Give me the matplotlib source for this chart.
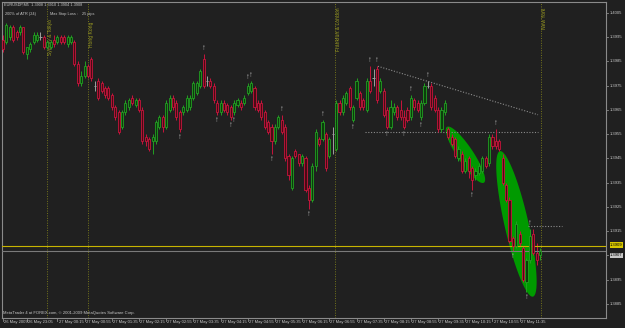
import numpy as np
import matplotlib
matplotlib.use("Agg")
import matplotlib.pyplot as plt
from matplotlib.patches import Polygon

plt.rcParams["font.family"] = ["Liberation Sans", "DejaVu Sans"]

# EURUSD M5 candles, prices in 1/10000 (13994 -> 1.3994)
opens = [13994, 13993, 13995, 13999, 13997, 13997, 13999, 13988, 13990, 13993,
         13994, 13995, 13995, 13991, 13991, 13994, 13993, 13995, 13995, 13992,
         13993, 13993, 13984, 13976, 13979, 13983, 13986, 13975, 13977, 13976,
         13974, 13974, 13971, 13966, 13964, 13958, 13964, 13966, 13970, 13967,
         13969, 13965, 13954, 13953, 13952, 13952, 13958, 13962, 13958, 13965,
         13970, 13968, 13964, 13964, 13965, 13966, 13970, 13972, 13975, 13986,
         13977, 13977, 13975, 13968, 13964, 13968, 13967, 13966, 13964, 13967,
         13968, 13968, 13972, 13973, 13974, 13968, 13968, 13964, 13960, 13958,
         13952, 13958, 13961, 13958, 13946, 13933, 13948, 13947, 13943, 13945,
         13933, 13928, 13942, 13953, 13953, 13955, 13946, 13955, 13949, 13968,
         13964, 13968, 13974, 13961, 13970, 13972, 13969, 13965, 13977, 13978,
         13982, 13973, 13973, 13965, 13958, 13964, 13966, 13965, 13962, 13965,
         13962, 13969, 13968, 13962, 13968, 13975, 13975, 13970, 13965, 13957,
         13964, 13957, 13954, 13953, 13945, 13947, 13940, 13945, 13941, 13938,
         13939, 13940, 13945, 13943, 13954, 13952, 13952, 13945, 13934, 13928,
         13912, 13909, 13914, 13908, 13894, 13903, 13914, 13906, 13905]
highs = [13996, 14001, 14000, 14000, 13998, 14000, 13999, 13991, 13993, 13997,
         13997, 13997, 13996, 13994, 13994, 13996, 13996, 13996, 13996, 13996,
         13996, 13994, 13985, 13981, 13985, 13984, 13987, 13977, 13978, 13977,
         13975, 13975, 13972, 13967, 13965, 13965, 13969, 13970, 13971, 13970,
         13970, 13966, 13955, 13954, 13955, 13961, 13963, 13963, 13969, 13971,
         13971, 13969, 13965, 13967, 13971, 13971, 13977, 13977, 13982, 13988,
         13979, 13978, 13976, 13969, 13969, 13969, 13968, 13967, 13969, 13970,
         13969, 13971, 13976, 13977, 13975, 13969, 13969, 13965, 13961, 13959,
         13959, 13963, 13963, 13959, 13947, 13946, 13949, 13947, 13947, 13946,
         13934, 13943, 13957, 13954, 13961, 13956, 13954, 13958, 13969, 13969,
         13971, 13973, 13975, 13967, 13978, 13973, 13970, 13978, 13983, 13982,
         13983, 13978, 13974, 13966, 13969, 13968, 13967, 13969, 13965, 13966,
         13971, 13970, 13969, 13969, 13976, 13977, 13976, 13971, 13966, 13966,
         13969, 13958, 13955, 13954, 13950, 13948, 13945, 13946, 13942, 13941,
         13943, 13946, 13946, 13955, 13955, 13957, 13953, 13947, 13935, 13929,
         13913, 13919, 13915, 13909, 13904, 13916, 13916, 13910, 13908]
lows = [13989, 13992, 13994, 13993, 13994, 13996, 13988, 13986, 13989, 13992,
        13993, 13994, 13990, 13990, 13990, 13991, 13992, 13992, 13992, 13991,
        13992, 13983, 13975, 13975, 13978, 13978, 13977, 13973, 13969, 13972,
        13970, 13969, 13965, 13961, 13955, 13957, 13963, 13965, 13967, 13966,
        13964, 13951, 13950, 13948, 13947, 13951, 13957, 13956, 13957, 13964,
        13965, 13961, 13956, 13963, 13964, 13965, 13969, 13971, 13974, 13974,
        13975, 13974, 13968, 13963, 13963, 13964, 13963, 13961, 13963, 13966,
        13965, 13967, 13971, 13972, 13965, 13964, 13961, 13957, 13955, 13947,
        13951, 13957, 13955, 13944, 13936, 13932, 13945, 13942, 13942, 13931,
        13924, 13927, 13940, 13950, 13952, 13940, 13945, 13947, 13948, 13963,
        13963, 13967, 13965, 13960, 13969, 13965, 13965, 13964, 13972, 13975,
        13968, 13972, 13962, 13957, 13957, 13963, 13961, 13961, 13957, 13960,
        13961, 13965, 13964, 13961, 13967, 13974, 13965, 13964, 13956, 13956,
        13963, 13953, 13950, 13945, 13944, 13939, 13939, 13937, 13932, 13936,
        13938, 13939, 13941, 13942, 13949, 13949, 13948, 13934, 13927, 13910,
        13907, 13908, 13909, 13894, 13890, 13902, 13905, 13901, 13903]
closes = [13990, 14000, 13999, 13994, 13995, 13999, 13989, 13991, 13992, 13996,
          13996, 13995, 13991, 13993, 13993, 13992, 13995, 13993, 13993, 13995,
          13995, 13984, 13976, 13979, 13983, 13979, 13978, 13975, 13970, 13973,
          13971, 13970, 13966, 13962, 13956, 13964, 13968, 13969, 13968, 13969,
          13965, 13952, 13952, 13949, 13954, 13960, 13962, 13958, 13968, 13970,
          13966, 13962, 13957, 13966, 13970, 13970, 13976, 13976, 13981, 13975,
          13977, 13975, 13969, 13964, 13968, 13965, 13964, 13962, 13968, 13969,
          13966, 13970, 13975, 13976, 13966, 13965, 13962, 13958, 13956, 13952,
          13958, 13962, 13956, 13945, 13938, 13945, 13946, 13943, 13946, 13932,
          13928, 13942, 13956, 13951, 13960, 13941, 13953, 13955, 13968, 13964,
          13970, 13972, 13966, 13966, 13977, 13966, 13966, 13977, 13973, 13978,
          13969, 13977, 13963, 13958, 13966, 13966, 13962, 13962, 13958, 13961,
          13970, 13966, 13965, 13968, 13975, 13975, 13966, 13965, 13957, 13965,
          13968, 13954, 13951, 13946, 13949, 13940, 13944, 13940, 13936, 13940,
          13942, 13945, 13942, 13954, 13950, 13950, 13949, 13935, 13928, 13911,
          13909, 13918, 13910, 13895, 13903, 13913, 13906, 13903, 13907]

fractal_up = [59, 72, 73, 82, 94, 108, 110, 120, 125, 145, 155]
fractal_down = [52, 63, 67, 68, 79, 90, 103, 113, 118, 123, 138, 150, 154]

session_bars = [12.9, 25.0, 97.6, 158.2]
session_names = ["Sydney & Tokyo", "Hong Kong", "Frankfurt & London", "New York"]

time_tick_bars = [0, 7, 16, 24, 32, 40, 48, 56, 64, 72, 80, 88, 96, 104,
                  112, 120, 128, 136, 144, 152]
time_tick_labels = ["26 May 2009", "26 May 23:05", "27 May 00:15", "27 May 00:55",
                    "27 May 01:35", "27 May 02:15", "27 May 02:55", "27 May 03:35",
                    "27 May 04:15", "27 May 04:55", "27 May 05:35", "27 May 06:15",
                    "27 May 06:55", "27 May 07:35", "27 May 08:15", "27 May 08:55",
                    "27 May 09:35", "27 May 10:15", "27 May 10:55", "27 May 11:35"]
price_ticks = [14005, 13995, 13985, 13975, 13965, 13955, 13945, 13935,
               13925, 13915, 13905, 13895, 13885]

trend_line = [(110.3, 13983), (157.4, 13963)]
level_lines = [(106.5, 157.4, 13956), (154.4, 164.4, 13917)]
ellipses = [((130.6, 13958), (141.5, 13935), 16), ((146.2, 13948), (155.9, 13888), 24)]
bid_line = 13909
ask_line = 13907

PIP = 10000.0
o = np.array(opens) / PIP
h = np.array(highs) / PIP
l = np.array(lows) / PIP
c = np.array(closes) / PIP
idx = np.arange(len(o))

BG = "#202020"
FG = "#c8c8c8"
FS = 3.0
W, H = 625, 328

fig = plt.figure(figsize=(W / 100, H / 100), dpi=100, facecolor=BG)
ax = fig.add_axes([2 / W, 10 / H, 604 / W, 316 / H], facecolor=BG)
ax.set_xlim(-0.3, 177.4)
ax.set_ylim(1.38792, 1.40095)
for s in ax.spines.values():
    s.set_color("#8a8a8a")
    s.set_linewidth(0.8)
ax.set_xticks([])
ax.set_yticks([])

# session separators, labels start a little lower where header text sits
label_tops = [1.40024, 1.40016, 1.40072, 1.40072]
for xb, name, top in zip(session_bars, session_names, label_tops):
    ax.axvline(xb, color="#76761c", lw=0.7, ls=(0, (1, 1.5)), zorder=1)
    ax.text(xb + 0.3, top, name, rotation=90, ha="left", va="top",
            color="#9a9a22", fontsize=3.6, zorder=1)

# green ellipses drawn in screen space
t = ax.transData
for p1, p2, wpx in ellipses:
    a = t.transform((p1[0], p1[1] / PIP))
    b = t.transform((p2[0], p2[1] / PIP))
    cen = (a + b) / 2
    d = b - a
    half = np.hypot(*d) / 2
    ang = np.arctan2(d[1], d[0])
    th = np.linspace(0, 2 * np.pi, 120)
    ex = half * np.cos(th)
    ey = wpx / 2 * np.sin(th)
    pts = np.column_stack([cen[0] + ex * np.cos(ang) - ey * np.sin(ang),
                           cen[1] + ex * np.sin(ang) + ey * np.cos(ang)])
    ax.add_patch(Polygon(t.inverted().transform(pts), closed=True,
                         fc="#009a00", ec="none", zorder=2))

# trend / level lines
(x1, y1), (x2, y2) = trend_line
ax.plot([x1, x2], [y1 / PIP, y2 / PIP], color="#8c8c8c", lw=0.8,
        ls=(0, (1, 1.5)), zorder=2)
for xa, xb, lv in level_lines:
    ax.plot([xa, xb], [lv / PIP, lv / PIP], color="#8c8c8c", lw=0.8,
            ls=(0, (1, 1.5)), zorder=2)

# candles
up = c > o
dn = c < o
doji = c == o
ax.vlines(idx[up], l[up], h[up], color="#22a022", lw=0.7, zorder=3)
ax.vlines(idx[dn], l[dn], h[dn], color="#c8143c", lw=0.7, zorder=3)
ax.vlines(idx[doji], l[doji], h[doji], color="#a0a0a0", lw=0.7, zorder=3)
ax.bar(idx[up], c[up] - o[up], bottom=o[up], width=0.62,
       color="#0b3d0b", edgecolor="#22a022", lw=0.6, zorder=4)
ax.bar(idx[dn], o[dn] - c[dn], bottom=c[dn], width=0.62,
       color="#4a0a14", edgecolor="#c8143c", lw=0.6, zorder=4)
ax.hlines(o[doji], idx[doji] - 0.35, idx[doji] + 0.35, color="#a0a0a0",
          lw=0.7, zorder=4)

# fractals
for i in fractal_up:
    ax.annotate("\u2191", (i, h[i]), xytext=(0, 1.5), textcoords="offset points",
                ha="center", va="bottom", color="#b8b8b8", fontsize=5.5, zorder=5)
for i in fractal_down:
    ax.annotate("\u2191", (i, l[i]), xytext=(0, -1.5), textcoords="offset points",
                ha="center", va="top", color="#b8b8b8", fontsize=5.5, zorder=5)

# bid / ask lines
ax.axhline(bid_line / PIP, color="#c8b400", lw=0.8, zorder=3)
ax.axhline(ask_line / PIP, color="#7a7a7a", lw=0.8, zorder=3)

# right price axis
for p in price_ticks:
    ax.annotate(f"{p / PIP:.4f}", (1, p / PIP), xycoords=("axes fraction", "data"),
                xytext=(3, 0), textcoords="offset points", ha="left", va="center",
                color=FG, fontsize=FS, annotation_clip=False)
    ax.plot([1, 1.004], [p / PIP, p / PIP], transform=ax.get_yaxis_transform(),
            color="#8a8a8a", lw=0.6, clip_on=False)
ax.annotate(f"{bid_line / PIP:.4f}", (1, bid_line / PIP + 0.00003),
            xycoords=("axes fraction", "data"),
            xytext=(3, 0), textcoords="offset points", ha="left", va="center",
            color="black", fontsize=FS, annotation_clip=False,
            bbox=dict(boxstyle="square,pad=0.15", fc="#d8c800", ec="none"))
ax.annotate(f"{ask_line / PIP:.4f}", (1, ask_line / PIP - 0.00019),
            xycoords=("axes fraction", "data"), xytext=(3, 0), textcoords="offset points",
            ha="left", va="center", color="black", fontsize=FS, annotation_clip=False,
            bbox=dict(boxstyle="square,pad=0.15", fc="#c8c8c8", ec="none"))

# time axis
for b, lab in zip(time_tick_bars, time_tick_labels):
    ax.annotate(lab, (b, 0), xycoords=("data", "axes fraction"), xytext=(0.8, -1.5),
                textcoords="offset points", ha="left", va="top", color=FG,
                fontsize=FS, annotation_clip=False)
    ax.plot([b, b], [0, -0.008], transform=ax.get_xaxis_transform(),
            color="#8a8a8a", lw=0.6, clip_on=False)

# header and footer texts
HS = 2.8
fig.text(4 / W, 1 - 5 / H, "EURUSDP,M5  1.3908 1.3910 1.3904 1.3908", ha="left",
         va="center", color=FG, fontsize=HS)
fig.text(5 / W, 1 - 14 / H, "200% of ATR (24)", ha="left", va="center",
         color=FG, fontsize=HS)
fig.text(50 / W, 1 - 14 / H, "Max Stop Loss :", ha="left", va="center",
         color=FG, fontsize=HS)
fig.text(82 / W, 1 - 14 / H, "25 pips", ha="left", va="center",
         color=FG, fontsize=HS)
fig.text(3 / W, 1 - 313 / H,
         "MetaTrader 4 at FOREX.com, \u00a9 2001-2009 MetaQuotes Software Corp.",
         ha="left", va="center", color=FG, fontsize=FS)

fig.savefig("out.png", dpi=100, facecolor=BG)
